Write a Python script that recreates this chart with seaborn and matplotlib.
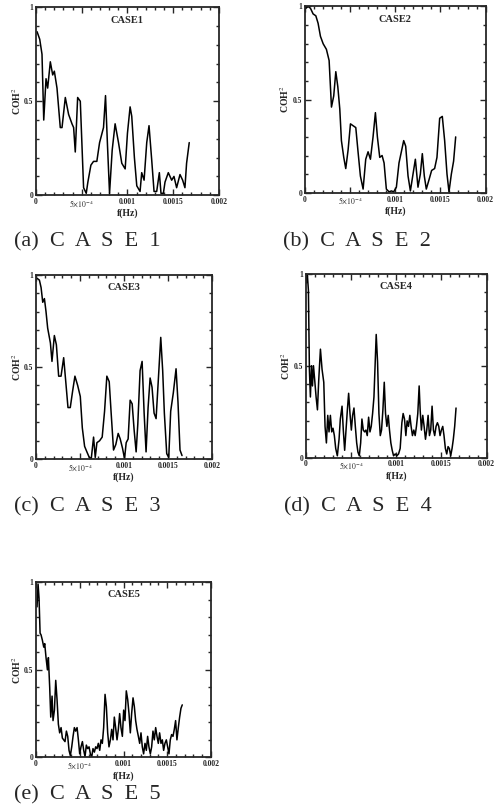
import numpy as np
import pandas as pd
import matplotlib
matplotlib.use("Agg")
import matplotlib.pyplot as plt
from matplotlib.ticker import MultipleLocator, FixedLocator, FixedFormatter
import seaborn as sns

# frequencies in units of 1e-4 Hz, squared coherence
f1 = [0.11, 0.40, 0.65, 0.84, 1.09, 1.27, 1.56, 1.82, 2.0, 2.29, 2.65, 2.84, 3.2, 3.56, 3.93,
      4.11, 4.29, 4.55, 4.84, 5.2, 5.49, 5.67, 6.0, 6.29, 6.65, 6.95, 7.38, 7.6, 7.82, 8.04,
      8.33, 8.65, 9.02, 9.38, 9.75, 10.0, 10.29, 10.47, 10.76, 11.02, 11.38, 11.56, 11.82,
      12.11, 12.36, 12.65, 12.91, 13.2, 13.49, 13.67, 13.93, 14.11, 14.47, 14.84, 15.09,
      15.38, 15.75, 16.04, 16.29, 16.47, 16.76]
coh1 = [0.87, 0.83, 0.75, 0.40, 0.62, 0.57, 0.71, 0.64, 0.66, 0.57, 0.36, 0.36, 0.52, 0.43, 0.38,
        0.36, 0.23, 0.52, 0.50, 0.04, 0.01, 0.07, 0.16, 0.18, 0.18, 0.28, 0.36, 0.53, 0.26, 0.01,
        0.24, 0.38, 0.28, 0.17, 0.14, 0.33, 0.47, 0.42, 0.20, 0.05, 0.02, 0.12, 0.08,
        0.28, 0.37, 0.19, 0.02, 0.02, 0.12, 0.01, 0.01, 0.07, 0.12, 0.08, 0.10,
        0.04, 0.11, 0.08, 0.04, 0.17, 0.28]

f2 = [0.11, 0.37, 0.63, 0.92, 1.22, 1.47, 1.73, 2.03, 2.39, 2.69, 2.95, 3.2, 3.43, 3.65, 3.87,
      4.05, 4.31, 4.53, 4.79, 5.05, 5.34, 5.64, 5.89, 6.15, 6.45, 6.74, 7.0, 7.26, 7.55, 7.81,
      8.03, 8.29, 8.55, 8.77, 9.02, 9.32, 9.58, 9.83, 10.13, 10.42, 10.68, 10.94, 11.16,
      11.42, 11.68, 11.97, 12.23, 12.52, 12.78, 13.0, 13.22, 13.44, 13.74, 14.03, 14.36,
      14.62, 14.92, 15.21, 15.47, 15.73, 15.95, 16.21, 16.46, 16.69]
coh2 = [0.99, 1.0, 0.99, 0.96, 0.95, 0.91, 0.84, 0.80, 0.77, 0.71, 0.46, 0.52, 0.65, 0.57, 0.45,
        0.28, 0.19, 0.13, 0.23, 0.37, 0.36, 0.35, 0.22, 0.09, 0.02, 0.18, 0.22, 0.18, 0.30, 0.43,
        0.30, 0.19, 0.20, 0.16, 0.02, 0.005, 0.01, 0.005, 0.03, 0.16, 0.22, 0.28, 0.25,
        0.09, 0.01, 0.10, 0.18, 0.03, 0.10, 0.21, 0.09, 0.02, 0.07, 0.12, 0.13,
        0.19, 0.40, 0.41, 0.28, 0.10, 0.005, 0.10, 0.17, 0.30]

f3 = [0.11, 0.38, 0.57, 0.76, 0.95, 1.13, 1.32, 1.63, 1.81, 2.08, 2.31, 2.57, 2.84, 3.14, 3.36,
      3.63, 3.89, 4.16, 4.42, 4.73, 5.03, 5.26, 5.52, 5.78, 6.05, 6.28, 6.54, 6.73, 6.92, 7.22,
      7.52, 7.79, 8.05, 8.32, 8.54, 8.81, 9.07, 9.34, 9.57, 9.83, 10.06, 10.25, 10.47, 10.7,
      10.93, 11.15, 11.38, 11.57, 11.83, 12.06, 12.29, 12.51, 12.74, 12.97, 13.19, 13.42,
      13.65, 13.88, 14.18, 14.4, 14.59, 14.86, 15.09, 15.31, 15.61, 15.92, 16.14, 16.37, 16.6]
coh3 = [0.98, 0.97, 0.93, 0.85, 0.87, 0.80, 0.71, 0.63, 0.53, 0.67, 0.62, 0.45, 0.45, 0.55, 0.43,
        0.28, 0.28, 0.37, 0.45, 0.40, 0.34, 0.17, 0.07, 0.04, 0.01, 0.004, 0.12, 0.01, 0.09, 0.10,
        0.12, 0.26, 0.45, 0.42, 0.25, 0.05, 0.08, 0.14, 0.11, 0.06, 0.004, 0.09, 0.11, 0.32,
        0.30, 0.16, 0.04, 0.19, 0.48, 0.53, 0.25, 0.04, 0.28, 0.44, 0.39, 0.25,
        0.22, 0.41, 0.66, 0.48, 0.25, 0.03, 0.01, 0.26, 0.36, 0.49, 0.31, 0.05, 0.02]

f4 = [0.07, 0.18, 0.29, 0.40, 0.51, 0.63, 0.74, 0.85, 0.99, 1.14, 1.29, 1.43, 1.62, 1.8, 1.99,
      2.13, 2.28, 2.43, 2.57, 2.72, 2.87, 3.01, 3.16, 3.31, 3.49, 3.68, 3.82, 4.01, 4.15, 4.3,
      4.45, 4.6, 4.74, 4.89, 5.04, 5.18, 5.33, 5.48, 5.63, 5.77, 5.92, 6.07, 6.21, 6.36, 6.51,
      6.65, 6.8, 6.95, 7.1, 7.24, 7.39, 7.54, 7.68, 7.79, 7.94, 8.09, 8.24, 8.38, 8.53, 8.68,
      8.82, 8.97, 9.12, 9.26, 9.41, 9.56, 9.71, 9.89, 10.07, 10.26, 10.44, 10.63, 10.77, 10.92,
      11.07, 11.21, 11.36, 11.51, 11.65, 11.8, 11.95, 12.1, 12.24, 12.39, 12.54, 12.65, 12.79,
      12.94, 13.09, 13.24, 13.38, 13.53, 13.68, 13.82, 13.97, 14.12, 14.26, 14.41, 14.56,
      14.71, 14.85, 15.0, 15.15, 15.29, 15.44, 15.59, 15.74, 15.88, 16.03, 16.18, 16.32,
      16.47, 16.62]
coh4 = [0.95, 0.99, 0.91, 0.48, 0.33, 0.50, 0.39, 0.50, 0.42, 0.33, 0.26, 0.42, 0.59, 0.48, 0.41,
        0.17, 0.08, 0.23, 0.14, 0.23, 0.14, 0.16, 0.12, 0.05, 0.01, 0.10, 0.21, 0.28, 0.15, 0.04,
        0.15, 0.26, 0.35, 0.24, 0.15, 0.23, 0.27, 0.17, 0.08, 0.03, 0.01, 0.08, 0.21, 0.15, 0.14,
        0.15, 0.12, 0.22, 0.14, 0.17, 0.24, 0.33, 0.52, 0.67, 0.52, 0.24, 0.12, 0.15, 0.26, 0.41,
        0.24, 0.17, 0.23, 0.15, 0.08, 0.04, 0.01, 0.02, 0.01, 0.02, 0.05, 0.19, 0.24, 0.21,
        0.12, 0.20, 0.17, 0.23, 0.17, 0.12, 0.15, 0.12, 0.17, 0.24, 0.39, 0.26, 0.15,
        0.23, 0.17, 0.10, 0.15, 0.23, 0.12, 0.15, 0.28, 0.15, 0.12, 0.17, 0.19,
        0.17, 0.12, 0.15, 0.17, 0.12, 0.05, 0.02, 0.06, 0.05, 0.01, 0.05, 0.10,
        0.17, 0.27]

f5 = [0.11, 0.23, 0.34, 0.46, 0.57, 0.72, 0.88, 0.99, 1.14, 1.3, 1.41, 1.56, 1.68, 1.83, 1.94,
      2.1, 2.25, 2.4, 2.55, 2.7, 2.86, 3.01, 3.16, 3.31, 3.47, 3.62, 3.77, 3.92, 4.08, 4.23,
      4.38, 4.53, 4.69, 4.84, 4.99, 5.14, 5.3, 5.45, 5.6, 5.75, 5.9, 6.06, 6.21, 6.36, 6.51,
      6.67, 6.82, 6.97, 7.12, 7.28, 7.43, 7.58, 7.73, 7.89, 8.04, 8.19, 8.34, 8.5, 8.65, 8.8,
      8.95, 9.1, 9.26, 9.41, 9.56, 9.71, 9.87, 10.02, 10.17, 10.32, 10.48, 10.63, 10.78, 10.93,
      11.09, 11.24, 11.39, 11.54, 11.7, 11.85, 12.0, 12.15, 12.3, 12.46, 12.61, 12.76, 12.91,
      13.07, 13.22, 13.37, 13.52, 13.68, 13.83, 13.98, 14.13, 14.29, 14.44, 14.59, 14.74,
      14.9, 15.05, 15.2, 15.35, 15.5, 15.66, 15.81, 15.96, 16.11, 16.27, 16.42, 16.57, 16.72]
coh5 = [0.86, 0.99, 0.91, 0.71, 0.70, 0.67, 0.63, 0.65, 0.57, 0.50, 0.57, 0.40, 0.23, 0.35, 0.21,
        0.27, 0.44, 0.33, 0.19, 0.14, 0.17, 0.11, 0.10, 0.09, 0.15, 0.12, 0.04, 0.01, 0.06, 0.12,
        0.17, 0.15, 0.17, 0.10, 0.02, 0.06, 0.09, 0.04, 0.004, 0.07, 0.05, 0.06, 0.02, 0.0, 0.05,
        0.03, 0.06, 0.05, 0.08, 0.04, 0.10, 0.08, 0.17, 0.36, 0.29, 0.14, 0.06, 0.10, 0.16, 0.10,
        0.23, 0.17, 0.10, 0.16, 0.25, 0.17, 0.12, 0.27, 0.21, 0.38, 0.33, 0.25, 0.14, 0.25,
        0.34, 0.29, 0.21, 0.16, 0.12, 0.08, 0.14, 0.06, 0.02, 0.08, 0.04, 0.12, 0.06,
        0.02, 0.06, 0.15, 0.10, 0.17, 0.12, 0.08, 0.14, 0.08, 0.10, 0.04, 0.08,
        0.10, 0.06, 0.02, 0.10, 0.13, 0.12, 0.16, 0.21, 0.10, 0.17, 0.23, 0.28, 0.30]

cases = ["CASE1", "CASE2", "CASE3", "CASE4", "CASE5"]
captions = ["(a)  C  A  S  E  1", "(b)  C  A  S  E  2", "(c)  C  A  S  E  3",
            "(d)  C  A  S  E  4", "(e)  C  A  S  E  5"]
freqs = [f1, f2, f3, f4, f5]
cohs = [coh1, coh2, coh3, coh4, coh5]

xtick_vals = [0, 0.0005, 0.001, 0.0015, 0.002]
xtick_labels = ["0", r"$5{\times}10^{-4}$", "0.001", "0.0015", "0.002"]

sns.set_style("ticks")
plt.rcParams["font.family"] = ["Liberation Serif", "DejaVu Serif"]
plt.rcParams["mathtext.fontset"] = "stix"

fig = plt.figure(figsize=(4.94, 8.10), dpi=100)

# axes boxes [left, bottom, width, height] in figure fractions
boxes = [
    [0.073, 0.759, 0.370, 0.232],
    [0.617, 0.762, 0.366, 0.230],
    [0.073, 0.433, 0.356, 0.228],
    [0.619, 0.435, 0.366, 0.227],
    [0.073, 0.065, 0.354, 0.216],
]
caption_y = [0.701, 0.701, 0.374, 0.374, 0.019]

for i in range(5):
    ax = fig.add_axes(boxes[i])
    df = pd.DataFrame({"f": np.array(freqs[i]) * 1e-4, "coh": cohs[i]})
    sns.lineplot(data=df, x="f", y="coh", ax=ax, color="black", lw=1.1, estimator=None, sort=False)
    ax.set_xlim(0, 0.002)
    ax.set_ylim(0, 1)
    ax.xaxis.set_major_locator(FixedLocator(xtick_vals))
    ax.xaxis.set_major_formatter(FixedFormatter(xtick_labels))
    ax.xaxis.set_minor_locator(MultipleLocator(0.0001))
    ax.yaxis.set_major_locator(FixedLocator([0, 0.5, 1]))
    ax.yaxis.set_major_formatter(FixedFormatter(["0", "0.5", "1"]))
    ax.yaxis.set_minor_locator(MultipleLocator(0.1))
    ax.tick_params(which="both", direction="in", top=True, right=True, width=1.0,
                   labelsize=5.5, pad=2)
    ax.tick_params(which="major", length=4)
    ax.tick_params(which="minor", length=2.5)
    for lab in ax.get_xticklabels() + ax.get_yticklabels():
        lab.set_fontweight("bold")
    for s in ax.spines.values():
        s.set_linewidth(1.3)
    ax.set_xlabel("f(Hz)", fontsize=7, fontweight="bold", labelpad=0)
    ax.set_ylabel(r"COH$^2$", fontsize=7, fontweight="bold", labelpad=1)
    ax.text(0.5, 0.93, cases[i], transform=ax.transAxes, ha="center", va="center",
            fontsize=7.5, fontweight="bold")
    fig.text(boxes[i][0] - 0.045, caption_y[i], captions[i], fontsize=16, ha="left", va="center")

fig.savefig("out.png", dpi=100)
